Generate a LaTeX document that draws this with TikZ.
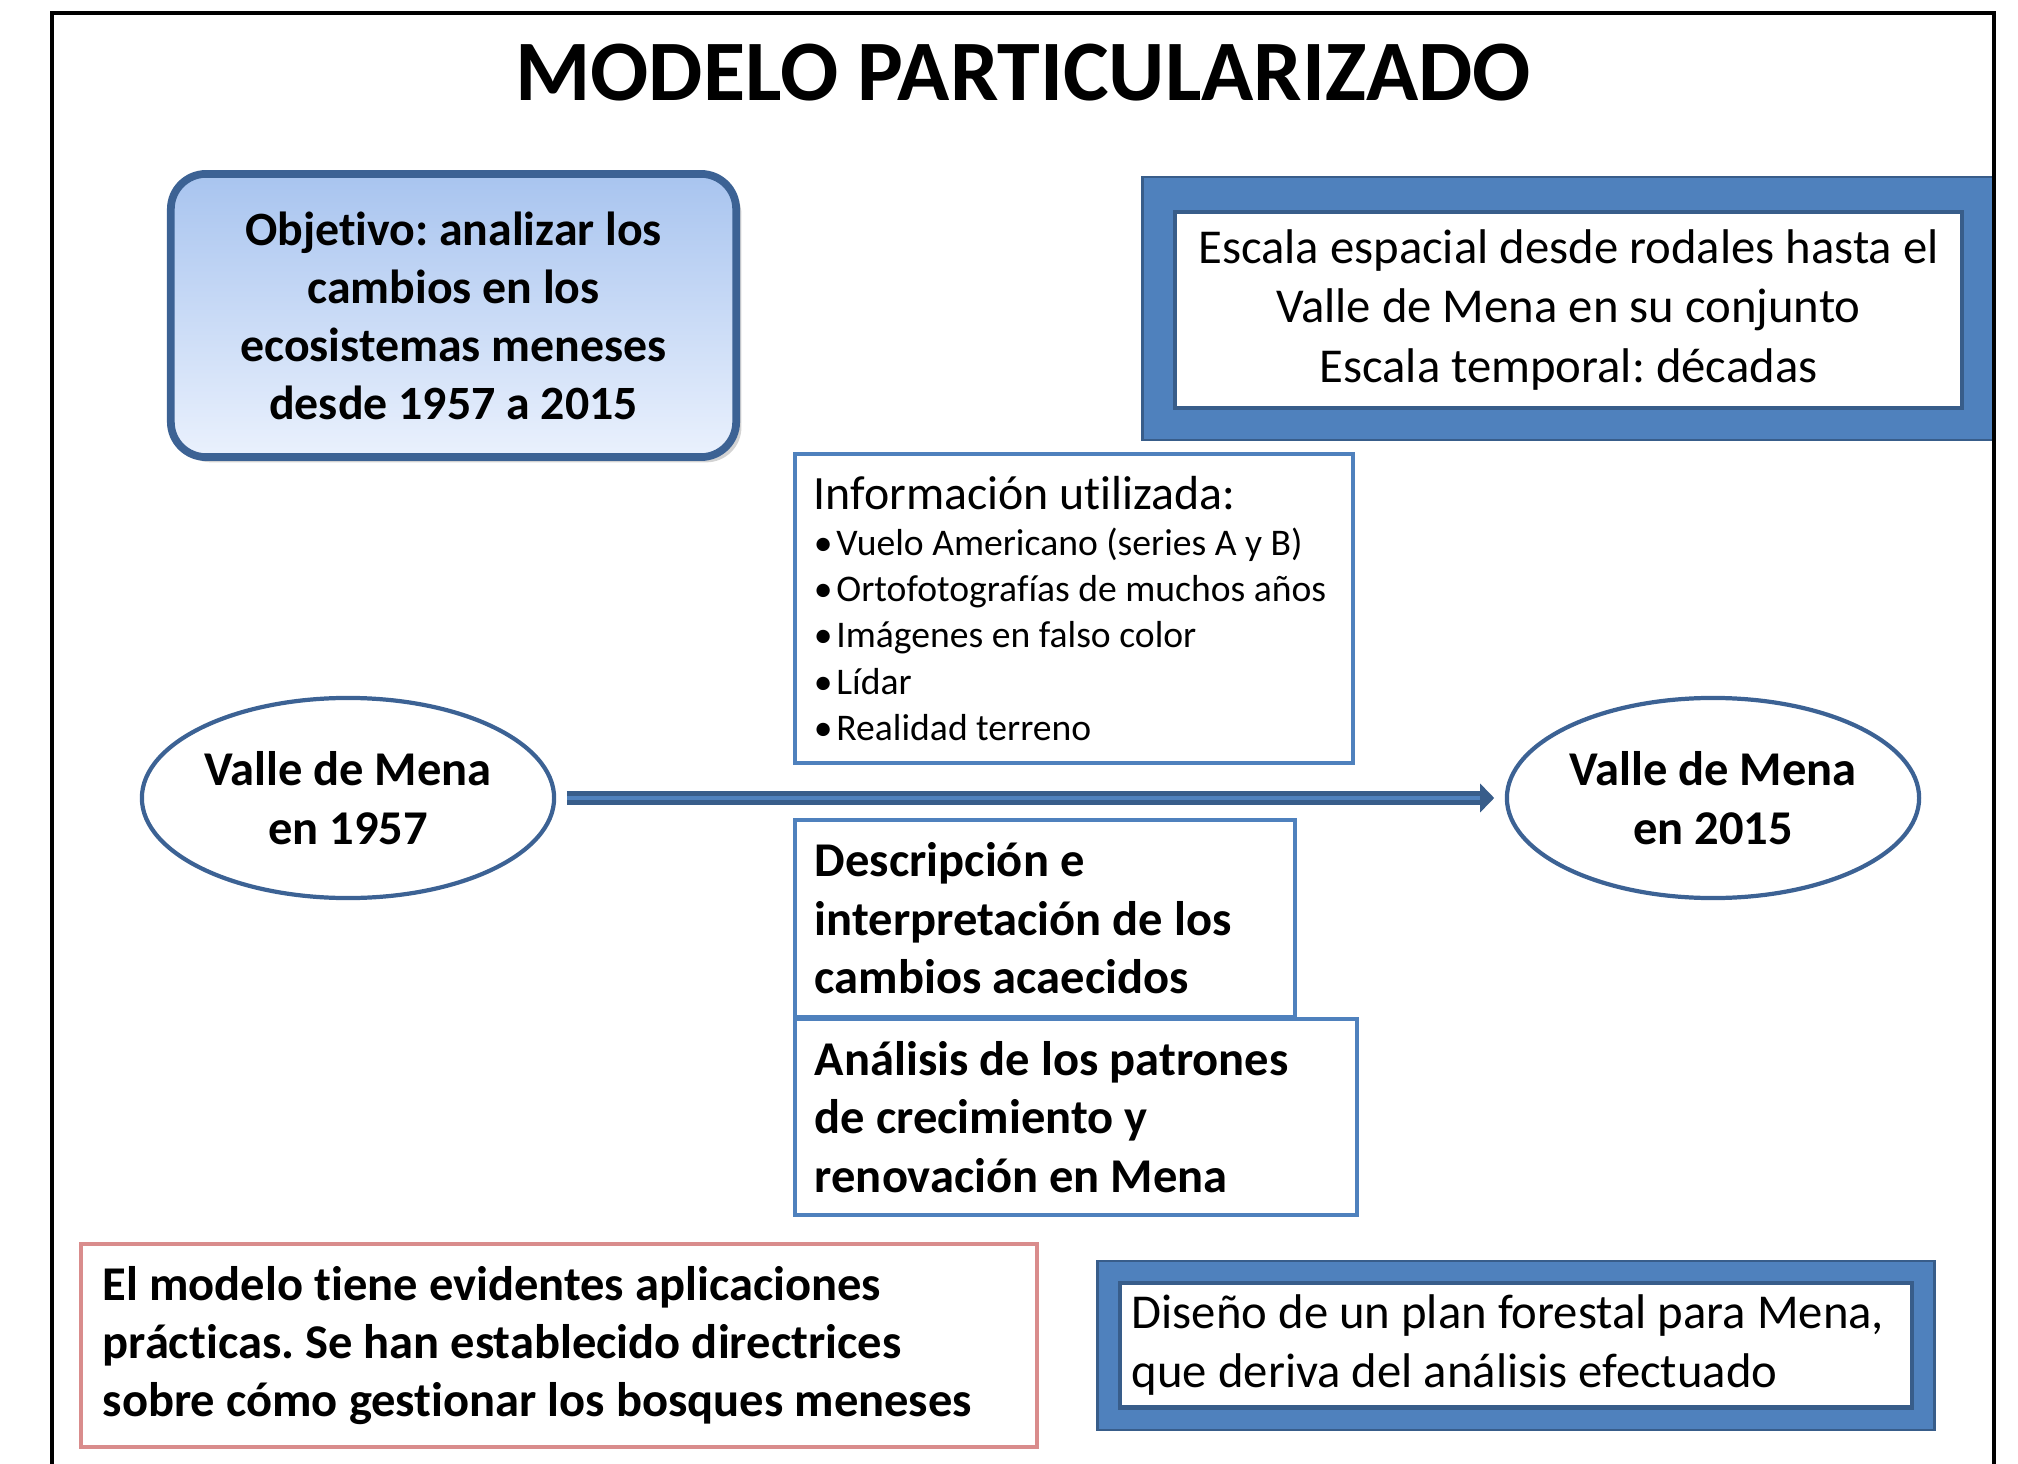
\documentclass[tikz,border=0pt]{standalone}
\usepackage{fontspec}
\setmainfont{Carlito}[Ligatures=NoCommon]
\usetikzlibrary{shapes.geometric,arrows.meta,shadows}
\frenchspacing

\definecolor{azul}{HTML}{4F81BD}
\definecolor{azuloscuro}{HTML}{385D8A}
\definecolor{azulborde}{HTML}{3C6294}
\definecolor{celeste}{HTML}{A8C4EF}
\definecolor{celestepalido}{HTML}{EAF1FD}
\definecolor{rojo}{HTML}{D98C8C}

\newcommand{\vineta}{\makebox[0.6em][l]{\textbullet}}

\begin{document}
\begin{tikzpicture}[
        x=0.01cm, y=-0.01cm,
        % Título
        titulo/.style={font=\fontsize{24.5}{29}\selectfont\bfseries},
        % Objetivo
        objetivo/.style={
            rectangle, draw=azulborde, line width=2.2pt, rounded corners=10pt,
            top color=celeste, bottom color=celestepalido,
            minimum width=5.65cm, minimum height=2.83cm, align=center,
            drop shadow={opacity=0.35, shadow xshift=1.5pt, shadow yshift=-1.5pt},
            font=\fontsize{13.6}{16.5}\selectfont\bfseries
        },
        % Marco azul
        marcoazul/.style={
            rectangle, draw=azuloscuro, fill=azul, line width=0.8pt
        },
        % Caja blanca dentro del marco
        cajablanca/.style={
            rectangle, draw=azuloscuro, fill=white, line width=1.2pt,
            font=\fontsize{13.85}{16.8}\selectfont
        },
        % Caja de texto
        caja/.style={
            rectangle, draw=azul, line width=1.1pt, inner sep=0.2cm,
            align=flush left
        },
        % Texto en negrita
        negrita/.style={font=\fontsize{13.8}{16.6}\selectfont\bfseries},
        % Valle de Mena
        periodo/.style={
            ellipse, draw=azulborde, line width=1.2pt, inner sep=0pt,
            minimum width=4.12cm, minimum height=2cm, align=center,
            font=\fontsize{13.8}{16.8}\selectfont\bfseries
        },
        % Flecha
        flecha/.style={-{Triangle[length=4pt,width=8pt]}, draw=azuloscuro,
            line width=4pt, shorten <=3pt, shorten >=3pt},
        flechaluz/.style={draw=azul, line width=1.1pt, shorten <=3pt, shorten >=7pt}
    ]
        \useasboundingbox (0,0) rectangle (2018,1464);

        % Título
        \node [titulo] (tit) at (1023,73) {MODELO PARTICULARIZADO};

        % Objetivo
        \node [objetivo] (objetivo) at (453.5,315.5)
            {Objetivo: analizar los\\cambios en los\\ecosistemas meneses\\desde 1957 a 2015};

        % Escala
        \node [marcoazul, minimum width=8.51cm, minimum height=2.63cm] (marcoescala) at (1568.5,308.5) {};
        \node [cajablanca, minimum width=7.87cm, minimum height=1.96cm, align=center] (escala) at (1568.5,310)
            {Escala espacial desde rodales hasta el\\Valle de Mena en su conjunto\\Escala temporal: décadas};

        % Información
        \node [caja, inner sep=0.19cm, minimum width=5.58cm, minimum height=3.09cm, text width=5.2cm,
            font=\fontsize{10.7}{13.1}\selectfont] (info) at (1074,608.5)
            {{\fontsize{13.6}{16}\selectfont Información utilizada:}\\
             \vineta Vuelo Americano (series A y B)\\
             \vineta Ortofotografías de muchos años\\
             \vineta Imágenes en falso color\\
             \vineta Lídar\\
             \vineta Realidad terreno};

        % Valle de Mena
        \node [periodo] (v1957) at (348,798) {Valle de Mena\\en 1957};
        \node [periodo] (v2015) at (1713,798) {Valle de Mena\\en 2015};

        % Descripción y análisis
        \node [caja, negrita, minimum width=5cm, minimum height=1.97cm, text width=4.6cm] (descripcion) at (1045,918.5)
            {Descripción e\\interpretación de los\\cambios acaecidos};
        \node [caja, negrita, minimum width=5.62cm, minimum height=1.96cm, text width=5.22cm] (analisis) at (1076,1117)
            {Análisis de los patrones\\de crecimiento y\\renovación en Mena};

        % Aplicaciones
        \node [caja, negrita, draw=rojo, inner sep=0.22cm, minimum width=9.56cm, minimum height=1.97cm, text width=9.12cm] (aplicaciones) at (559,1345.5)
            {El modelo tiene evidentes aplicaciones\\prácticas. Se han establecido directrices\\sobre cómo gestionar los bosques meneses};

        % Plan forestal
        \node [marcoazul, minimum width=8.36cm, minimum height=1.69cm] (marcoplan) at (1516,1345.5) {};
        \node [cajablanca, minimum width=7.92cm, minimum height=1.24cm, text width=7.68cm, inner sep=0.12cm, align=flush left] (plan) at (1516,1345)
            {Diseño de un plan forestal para Mena,\\que deriva del análisis efectuado};

        % Flecha
        \draw [flecha] (v1957) -- (v2015);
        \draw [flechaluz] (v1957) -- (v2015);

        % Marco
        \draw [line width=0.9pt] (52,1464) |- (1994,13) -- (1994,1464);

    \end{tikzpicture}
\end{document}
